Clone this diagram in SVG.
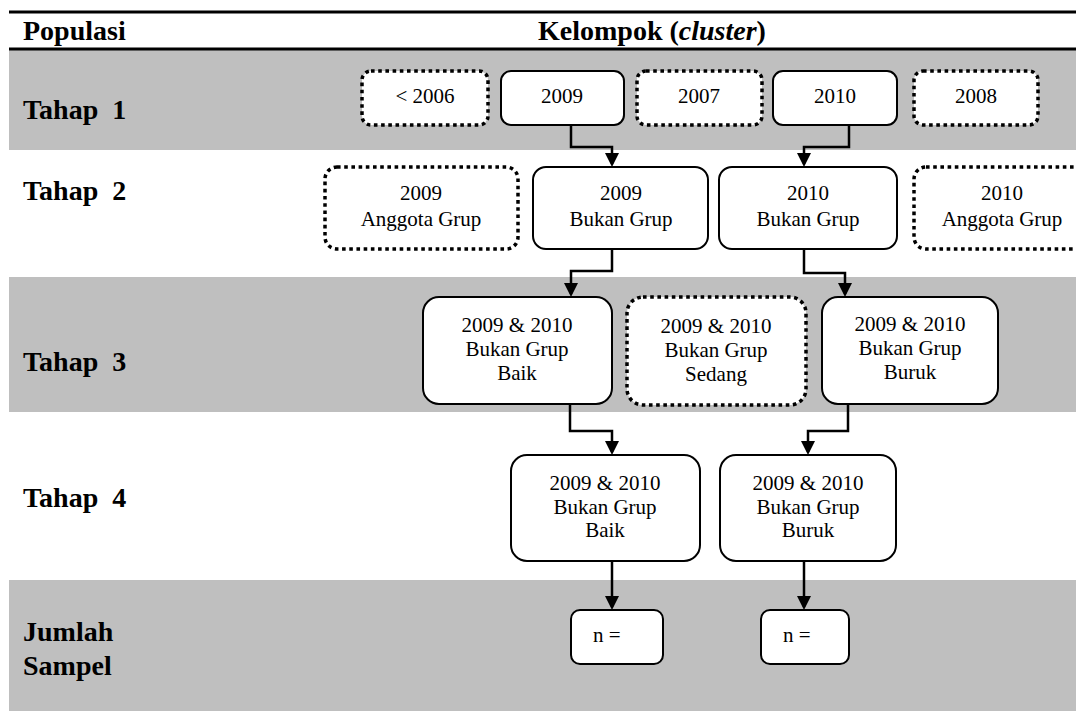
<svg xmlns="http://www.w3.org/2000/svg" width="1076" height="711" viewBox="0 0 1076 711">
<style>
.band{fill:#bfbfbf}
.rule{stroke:#000;stroke-width:3}
.hdr{font-family:"Liberation Serif","Times New Roman",serif;font-size:28px;font-weight:bold;fill:#000}
.box{fill:#fff;stroke:#000;stroke-width:2}
.dot{fill:#fff;stroke:#000;stroke-width:3.5;stroke-dasharray:3.6 3.6}
.t{font-family:"Liberation Serif","Times New Roman",serif;font-size:21px;fill:#000;text-anchor:middle}
.ts{font-family:"Liberation Serif","Times New Roman",serif;font-size:21px;fill:#000}
.conn{fill:none;stroke:#000;stroke-width:2.5;marker-end:url(#arr)}
</style>
<defs>
<marker id="arr" viewBox="0 0 14 14" refX="11" refY="7" markerWidth="14" markerHeight="14" markerUnits="userSpaceOnUse" orient="auto">
<path d="M0,0 L14,7 L0,14 z" fill="#000"/>
</marker>
</defs>
<g id="background">
<rect class="band" x="9" y="50" width="1067" height="100"/>
<rect class="band" x="9" y="277" width="1067" height="135"/>
<rect class="band" x="9" y="580" width="1067" height="131"/>
<line class="rule" x1="9" y1="12" x2="1076" y2="12"/>
<line class="rule" x1="9" y1="49" x2="1076" y2="49"/>
</g>
<g id="labels">
<text class="hdr" x="23" y="40">Populasi</text>
<text class="hdr" x="538" y="40">Kelompok (<tspan font-style="italic">cluster</tspan>)</text>
<text class="hdr" x="23" y="119" xml:space="preserve">Tahap  1</text>
<text class="hdr" x="23" y="200" xml:space="preserve">Tahap  2</text>
<text class="hdr" x="23" y="371" xml:space="preserve">Tahap  3</text>
<text class="hdr" x="23" y="507" xml:space="preserve">Tahap  4</text>
<text class="hdr" x="23" y="641">Jumlah</text>
<text class="hdr" x="23" y="675">Sampel</text>
</g>
<g id="connectors">
<path class="conn" d="M571 125 V147 H612 V164"/>
<path class="conn" d="M849 125 V147 H804 V164"/>
<path class="conn" d="M612 249 V271 H571 V294"/>
<path class="conn" d="M804 249 V273 H845 V294"/>
<path class="conn" d="M570 404 V431 H612 V452"/>
<path class="conn" d="M848 404 V431 H808 V452"/>
<path class="conn" d="M612 561 V607"/>
<path class="conn" d="M804 561 V607"/>
</g>
<g id="n1-lt2006"><rect class="dot" x="362" y="71" width="126" height="54" rx="9"/><text class="t" x="425" y="103">&lt; 2006</text></g>
<g id="n1-2009"><rect class="box" x="501" y="71" width="123" height="54" rx="10"/><text class="t" x="562" y="103">2009</text></g>
<g id="n1-2007"><rect class="dot" x="637" y="71" width="125" height="54" rx="9"/><text class="t" x="699" y="103">2007</text></g>
<g id="n1-2010"><rect class="box" x="773" y="71" width="124" height="54" rx="10"/><text class="t" x="835" y="103">2010</text></g>
<g id="n1-2008"><rect class="dot" x="914" y="71" width="124" height="54" rx="9"/><text class="t" x="976" y="103">2008</text></g>

<g id="n2-2009-anggota"><rect class="dot" x="325" y="167" width="193" height="82" rx="12"/><text class="t" x="421" y="200">2009</text><text class="t" x="421" y="226">Anggota Grup</text></g>
<g id="n2-2009-bukan"><rect class="box" x="533" y="167" width="175" height="82" rx="13"/><text class="t" x="621" y="200">2009</text><text class="t" x="621" y="226">Bukan Grup</text></g>
<g id="n2-2010-bukan"><rect class="box" x="719" y="167" width="178" height="82" rx="13"/><text class="t" x="808" y="200">2010</text><text class="t" x="808" y="226">Bukan Grup</text></g>
<g id="n2-2010-anggota"><rect class="dot" x="914" y="167" width="190" height="82" rx="12"/><text class="t" x="1002" y="200">2010</text><text class="t" x="1002" y="226">Anggota Grup</text></g>

<g id="n3-baik"><rect class="box" x="423" y="297" width="189" height="107" rx="16"/><text class="t" x="517" y="332">2009 &amp; 2010</text><text class="t" x="517" y="356">Bukan Grup</text><text class="t" x="517" y="380">Baik</text></g>
<g id="n3-sedang"><rect class="dot" x="627" y="297" width="179" height="108" rx="16"/><text class="t" x="716" y="333">2009 &amp; 2010</text><text class="t" x="716" y="357">Bukan Grup</text><text class="t" x="716" y="381">Sedang</text></g>
<g id="n3-buruk"><rect class="box" x="822" y="297" width="176" height="107" rx="16"/><text class="t" x="910" y="331">2009 &amp; 2010</text><text class="t" x="910" y="355">Bukan Grup</text><text class="t" x="910" y="379">Buruk</text></g>

<g id="n4-baik"><rect class="box" x="511" y="455" width="189" height="106" rx="16"/><text class="t" x="605" y="490">2009 &amp; 2010</text><text class="t" x="605" y="514">Bukan Grup</text><text class="t" x="605" y="537">Baik</text></g>
<g id="n4-buruk"><rect class="box" x="720" y="455" width="176" height="106" rx="16"/><text class="t" x="808" y="490">2009 &amp; 2010</text><text class="t" x="808" y="514">Bukan Grup</text><text class="t" x="808" y="537">Buruk</text></g>

<g id="n5-baik"><rect class="box" x="571" y="610" width="92" height="54" rx="9"/><text class="ts" x="593" y="642">n =</text></g>
<g id="n5-buruk"><rect class="box" x="761" y="610" width="88" height="54" rx="9"/><text class="ts" x="783" y="642">n =</text></g>
</svg>
